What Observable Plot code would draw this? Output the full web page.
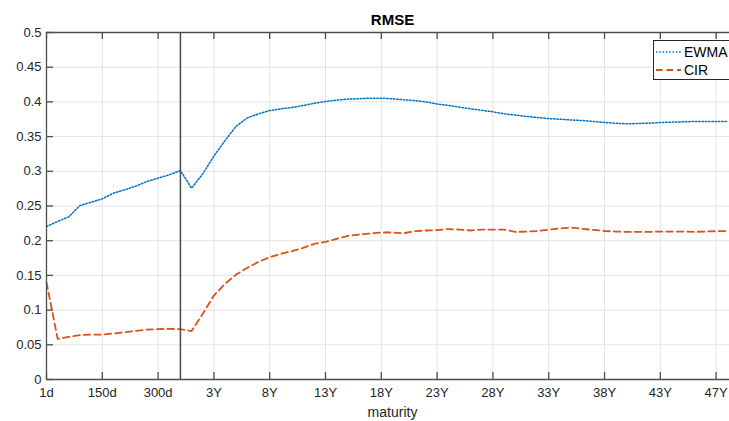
<!DOCTYPE html>
<html>
<head>
<meta charset="utf-8">
<script src="https://cdn.jsdelivr.net/npm/d3@7"></script>
<script src="https://cdn.jsdelivr.net/npm/@observablehq/plot@0.6"></script>
<style>
  html, body { margin: 0; padding: 0; background: #fff; overflow: hidden; }
  #wrap { position: relative; width: 729px; height: 421px; overflow: hidden; font-family: "Liberation Sans", Arial, Helvetica, sans-serif; }
  #legend { position: absolute; left: 653px; top: 40px; width: 86px; height: 38px; border: 1px solid #262626; background: #fff; }
  #legend .row { position: absolute; left: 0; height: 19px; display: flex; align-items: center; font-size: 14px; color: #000; }
  #legend svg { display: block; margin-left: 2px; margin-right: 3px; }
</style>
</head>
<body>
<div id="wrap">
  <div id="chart"></div>
  <div id="legend">
    <div class="row" style="top:1px">
      <svg width="25" height="10"><line x1="0" y1="5" x2="25" y2="5" stroke="#0072BD" stroke-width="1.5" stroke-dasharray="1.5,1.8"/></svg>EWMA
    </div>
    <div class="row" style="top:19px">
      <svg width="25" height="10"><line x1="0" y1="5" x2="25" y2="5" stroke="#D95319" stroke-width="1.8" stroke-dasharray="6.5,4"/></svg>CIR
    </div>
  </div>
</div>
<script>
// Maturity positions (1 = 1d); the first 13 are daily maturities, the rest yearly.
const tickIndex = [1, 6, 11, 16, 21, 26, 31, 36, 41, 46, 51, 56, 61];
const tickLabels = ["1d", "150d", "300d", "3Y", "8Y", "13Y", "18Y", "23Y", "28Y", "33Y", "38Y", "43Y", "47Y"];
const yTicks = [0, 0.05, 0.1, 0.15, 0.2, 0.25, 0.3, 0.35, 0.4, 0.45, 0.5];
const splitIndex = 13; // boundary between day and year maturities

const ewma = [
  0.2205, 0.2277, 0.2344, 0.2507, 0.2555, 0.2603, 0.2685, 0.2733, 0.2786, 0.2853,
  0.2900, 0.2950, 0.3010, 0.2757, 0.2963, 0.3218, 0.3444, 0.3650, 0.3770, 0.3828,
  0.3876, 0.3900, 0.3920, 0.3948, 0.3980, 0.4006, 0.4025, 0.4040, 0.4045, 0.4054,
  0.4054, 0.4045, 0.4030, 0.4020, 0.4000, 0.3970, 0.3950, 0.3925, 0.3900, 0.3880,
  0.3857, 0.3828, 0.3810, 0.3790, 0.3775, 0.3760, 0.3750, 0.3740, 0.3732, 0.3718,
  0.3703, 0.3693, 0.3684, 0.3689, 0.3693, 0.3703, 0.3708, 0.3713, 0.3718, 0.3718,
  0.3718, 0.3718
];
const cir = [
  0.1400, 0.0586, 0.0615, 0.0639, 0.0648, 0.0648, 0.0663, 0.0682, 0.0700, 0.0720,
  0.0725, 0.0730, 0.0725, 0.0698, 0.0946, 0.1210, 0.1379, 0.1513, 0.1610, 0.1696,
  0.1762, 0.1810, 0.1849, 0.1897, 0.1955, 0.1984, 0.2027, 0.2070, 0.2089, 0.2104,
  0.2118, 0.2118, 0.2108, 0.2137, 0.2147, 0.2151, 0.2168, 0.2160, 0.2147, 0.2160,
  0.2161, 0.2160, 0.2127, 0.2132, 0.2140, 0.2160, 0.2176, 0.2190, 0.2170, 0.2156,
  0.2140, 0.2132, 0.2127, 0.2127, 0.2127, 0.2132, 0.2132, 0.2132, 0.2127, 0.2132,
  0.2137, 0.2137
];

const ewmaData = ewma.map((v, i) => ({x: i + 1, v}));
const cirData = cir.map((v, i) => ({x: i + 1, v}));

const W = 729, H = 421, mL = 46, mR = 0, mT = 32, mB = 42;
const frameW = W - mL - mR, frameH = H - mT - mB;
const axisColor = "#4d4d4d";
const gridColor = "#e3e3e3";

const chart = Plot.plot({
  width: W,
  height: H,
  marginLeft: mL,
  marginRight: mR,
  marginTop: mT,
  marginBottom: mB,
  style: {fontFamily: '"Liberation Sans", Arial, Helvetica, sans-serif', fontSize: "13px", color: "#262626", background: "#fff", overflow: "visible"},
  x: {domain: [1, 62.2], ticks: tickIndex, tickFormat: d => tickLabels[tickIndex.indexOf(d)], tickSize: 0, tickPadding: 8, label: null},
  y: {domain: [0, 0.5], ticks: yTicks, tickFormat: d => String(+d.toFixed(2)), tickSize: 0, tickPadding: 5, label: null},
  marks: [
    // grid
    Plot.ruleX(tickIndex, {x: d => d, stroke: gridColor, strokeWidth: 1}),
    Plot.ruleY(yTicks, {y: d => d, stroke: gridColor, strokeWidth: 1}),
    // series
    Plot.line(ewmaData, {x: "x", y: "v", stroke: "#0072BD", strokeWidth: 1.5, strokeDasharray: "1.5,1.8"}),
    Plot.line(cirData, {x: "x", y: "v", stroke: "#D95319", strokeWidth: 1.8, strokeDasharray: "6.5,4"}),
    // split marker
    Plot.ruleX([splitIndex], {x: d => d, stroke: "#4a4a4a", strokeWidth: 1.5}),
    // axes box and inward ticks
    Plot.ruleY([0], {y: d => d, stroke: axisColor, strokeWidth: 1.3}),
    Plot.ruleY([0.5], {y: d => d, stroke: axisColor, strokeWidth: 1.3}),
    Plot.ruleX([1], {x: d => d, stroke: axisColor, strokeWidth: 1.3}),
    Plot.tickX(tickIndex, {x: d => d, insetTop: frameH - 7, stroke: axisColor, strokeWidth: 1.3}),
    Plot.tickX(tickIndex, {x: d => d, insetBottom: frameH - 7, stroke: axisColor, strokeWidth: 1.3}),
    Plot.tickY(yTicks, {y: d => d, insetRight: frameW - 7, stroke: axisColor, strokeWidth: 1.3}),
    // title and axis label
    Plot.text(["RMSE"], {frameAnchor: "top", lineAnchor: "middle", dx: 4.5, dy: -12, text: d => d, fontWeight: "bold", fontSize: 15, fill: "#000"}),
    Plot.text(["maturity"], {frameAnchor: "bottom", lineAnchor: "middle", dx: 4.5, dy: 33, text: d => d, fontSize: 14, fill: "#262626"})
  ]
});
document.getElementById("chart").appendChild(chart);
</script>
</body>
</html>
